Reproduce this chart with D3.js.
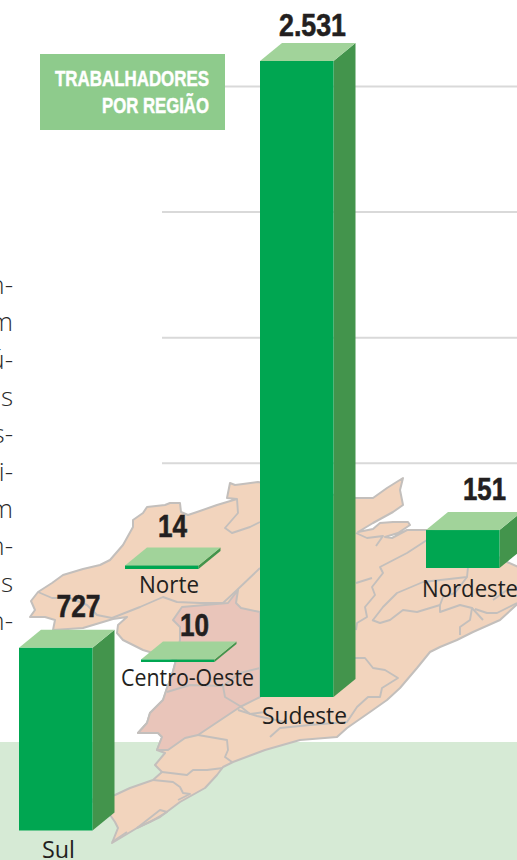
<!DOCTYPE html>
<html><head><meta charset="utf-8">
<script src="https://cdn.jsdelivr.net/npm/d3@7"></script>
<style>html,body{margin:0;padding:0;background:#fff;overflow:hidden}svg{display:block}</style>
</head><body><svg id="c" width="517" height="860"></svg>
<script>
// DATA
const regions = ["Sudeste","Sul","Nordeste","Norte","Centro-Oeste"];
const workers = [2531,727,151,14,10];
const valueLabels = ["2.531","727","151","14","10"];
const gridValues = [930,1430,1930,2430];
const titleLines = ["TRABALHADORES","POR REGIÃO"];
const bodyFragments = ["n-","m","ú-","s","s-","i-","m","n-","s","n-"];

// LAYOUT (scales for the free-standing columns placed on the map)
const W=517,H=860,depthX=22,depthY=18,barW=73.5;
const barLeft = d3.scaleOrdinal(regions,[260,19,426,125,141]);
const barBase = d3.scaleOrdinal(regions,[697,830.5,568,569,662]);
const valueX  = d3.scaleOrdinal(regions,[312.5,78.5,484.5,172.5,194.5]);
const valueY  = d3.scaleOrdinal(regions,[36,617,500,537,636]);
const nameX   = d3.scaleOrdinal(regions,[304.5,58.5,470,169,187.5]);
const nameY   = d3.scaleOrdinal(regions,[724,858,597,593,686]);
const nameW   = d3.scaleOrdinal(regions,[85,33,96,60,133]);
const valueW  = d3.scaleOrdinal(regions,[67,44,43,29,29]);
const titleW  = [154,107];
const y = d3.scaleLinear([0,2531],[697,61]);
const h = v => y(0)-y(v);
const C = {front:"#00a651",side:"#43944c",top:"#a1d39a",land:"#f2d4bd",pink:"#e9c5ba",border:"#c3bfbc",
           band:"#d6ead5",grid:"#d9d9d9",box:"#8ecb8c",ink:"#231f20"};

// BASE MAP (decorative drawing, traced)
const landOutline = [[31,601],[38,592],[52,583],[63,575],[83,569],[100,565],[110,560],[123,545],[133,527],[133,520],[143,513],[147,507],[165,505],[170,503],[180,503],[181,512],[188,515],[197,512],[217,505],[237,499],[227,498],[230,483],[235,485],[243,484],[258,482],[300,490],[356,498],[373,498],[387,488],[403,478],[400,490],[403,505],[393,512],[373,523],[358,532],[373,529],[380,523],[393,522],[408,522],[410,525],[398,533],[385,537],[392,538],[407,530],[427,530],[470,540],[507,562],[525,570],[525,597],[500,620],[473,632],[457,640],[440,647],[430,652],[417,668],[400,688],[387,700],[370,712],[347,728],[337,737],[300,740],[265,750],[233,762],[223,767],[217,775],[205,788],[180,802],[160,817],[137,828],[112,843],[118,828],[115,822],[108,812],[90,800],[115,795],[130,788],[153,780],[162,772],[155,765],[165,753],[157,750],[162,737],[158,733],[138,733],[147,723],[150,713],[163,700],[167,688],[172,675],[176,660],[143,650],[123,640],[117,633],[118,625],[127,617],[113,619],[83,628],[53,630],[55,620],[45,617],[30,617],[35,610]];
const pinkArea = [[182,607],[228,603],[238,590],[236,603],[241,608],[260,612],[260,697],[240,707],[198,735],[185,738],[168,750],[157,750],[162,737],[158,733],[138,733],[147,723],[150,713],[163,700],[167,688],[172,675],[176,660],[180,640],[180,627],[173,620]];
const borders = [
 [[38,592],[52,598],[70,598],[87,605],[97,615],[112,618],[140,607],[163,597],[177,602],[200,603],[223,603],[237,590],[260,568]],
 [[237,499],[238,513],[225,528],[232,533],[250,527],[260,522]],
 [[167,692],[190,685],[223,686],[240,673],[260,668]],
 [[223,686],[225,697],[240,706],[250,714],[265,712]],
 [[198,735],[227,740],[228,750],[225,757],[232,762]],
 [[162,772],[187,775],[193,770],[207,770],[223,768]],
 [[153,780],[173,782],[180,787],[183,793],[190,794],[178,800]],
 [[137,828],[160,810],[167,812],[150,822],[137,828]],
 [[112,842],[127,832]],
 [[355,658],[365,658],[373,668],[385,670],[398,678],[382,688],[380,697],[368,697],[357,707],[347,722],[310,725],[280,728],[270,737]],
 [[238,710],[257,716],[285,722]],
 [[356,533],[367,538],[383,536],[376,546]],
 [[427,540],[407,553],[380,567],[383,573],[372,587],[375,595],[365,607],[367,617],[357,623],[356,630]],
 [[356,583],[372,578]],
 [[373,620],[383,607],[397,593],[423,582],[467,577],[468,567]],
 [[372,620],[380,623],[390,620],[403,610],[417,612],[440,605],[440,612],[460,605],[472,608],[470,620],[460,627],[460,635]],
 [[472,608],[483,620]],
 [[475,609],[487,613],[497,613],[517,603]],
 [[440,605],[443,597],[455,593],[467,577]],
 [[493,600],[507,590],[517,588]]
];

const svg = d3.select("#c");
const line = d3.line();

svg.append("rect").attr("x",0).attr("y",742).attr("width",W).attr("height",H-742).attr("fill",C.band);
svg.selectAll("line.grid").data(gridValues).join("line").attr("class","grid")
  .attr("x1",162).attr("x2",W).attr("y1",d=>y(d)).attr("y2",d=>y(d))
  .attr("stroke",C.grid).attr("stroke-width",2);

svg.append("path").attr("d",line(landOutline)+"Z").attr("fill",C.land).attr("stroke",C.border).attr("stroke-width",2).attr("stroke-linejoin","round");
svg.append("path").attr("d",line(pinkArea)+"Z").attr("fill",C.pink).attr("stroke",C.border).attr("stroke-width",2).attr("stroke-linejoin","round");
svg.selectAll("path.b").data(borders).join("path").attr("class","b").attr("d",line)
  .attr("fill","none").attr("stroke",C.border).attr("stroke-width",1.9).attr("stroke-linejoin","round");

// Title box
svg.append("rect").attr("x",40).attr("y",54).attr("width",185).attr("height",76).attr("fill",C.box);
svg.selectAll("text.title").data(titleLines).join("text").attr("class","title")
  .attr("x",209).attr("y",(d,i)=>86+i*27).attr("text-anchor","end")
  .attr("font-family","'Liberation Sans',sans-serif").attr("font-weight",700)
  .attr("font-size",21.5).attr("fill","#fff").attr("stroke","#fff").attr("stroke-width",0.5)
  .attr("textLength",(d,i)=>titleW[i]).attr("lengthAdjust","spacingAndGlyphs").text(d=>d);

// Clipped column of running text
svg.selectAll("text.body").data(bodyFragments).join("text").attr("class","body")
  .attr("x",13).attr("y",(d,i)=>294+i*37.3).attr("text-anchor","end")
  .attr("font-family","'Open Sans',sans-serif").attr("font-weight",300)
  .attr("font-size",26).attr("fill","#2b2b2b").text(d=>d);

// Columns
const rows = regions.map((r,i)=>({r,v:workers[i],label:valueLabels[i]}));
const g = svg.selectAll("g.bar").data(rows).join("g").attr("class","bar");
g.append("path").attr("fill",C.side).attr("d",d=>{
  const x=barLeft(d.r)+barW,b=barBase(d.r),t=b-h(d.v);
  return line([[x,t],[x+depthX,t-depthY],[x+depthX,b-depthY],[x,b]])+"Z";});
g.append("path").attr("fill",C.top).attr("d",d=>{
  const x=barLeft(d.r),t=barBase(d.r)-h(d.v);
  return line([[x,t],[x+depthX,t-depthY],[x+barW+depthX,t-depthY],[x+barW,t]])+"Z";});
g.append("rect").attr("fill",C.front).attr("x",d=>barLeft(d.r)).attr("width",barW)
  .attr("y",d=>barBase(d.r)-h(d.v)).attr("height",d=>h(d.v));

svg.selectAll("text.val").data(rows).join("text").attr("class","val")
  .attr("x",d=>valueX(d.r)).attr("y",d=>valueY(d.r)).attr("text-anchor","middle")
  .attr("font-family","'Liberation Sans',sans-serif").attr("font-weight",700)
  .attr("font-size",31).attr("fill",C.ink).attr("stroke",C.ink).attr("stroke-width",0.6)
  .attr("textLength",d=>valueW(d.r)).attr("lengthAdjust","spacingAndGlyphs").text(d=>d.label);

svg.selectAll("text.name").data(rows).join("text").attr("class","name")
  .attr("x",d=>nameX(d.r)).attr("y",d=>nameY(d.r)).attr("text-anchor","middle")
  .attr("font-family","'Open Sans',sans-serif").attr("font-size",24).attr("fill",C.ink)
  .attr("textLength",d=>nameW(d.r)).attr("lengthAdjust","spacingAndGlyphs").text(d=>d.r);
</script></body></html>
